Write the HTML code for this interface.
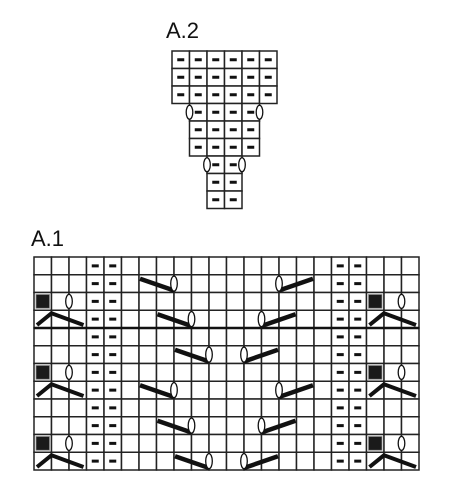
<!DOCTYPE html>
<html><head><meta charset="utf-8"><style>
html,body{margin:0;padding:0;background:#fff;width:450px;height:501px;overflow:hidden}
svg{display:block}
text{font-family:"Liberation Sans",Arial,sans-serif;font-size:22px;fill:#111}
</style></head><body>
<svg id="c" width="450" height="501" viewBox="0 0 450 501">
<text x="166" y="38">A.2</text>
<text x="31" y="246">A.1</text>
</svg>
<script>
// A.2 chart: each row: [firstCol, lastCol] (in columns of 6-wide grid), yo-overs at gridlines
const a2Rows = [[0,5],[0,5],[0,5],[1,4],[1,4],[1,4],[2,3],[2,3],[2,3]];
const a2Yo = [[3,1],[3,5],[6,2],[6,4]]; // [row, gridline]
// A.1 chart: 22 columns x 12 rows
const a1Cols = 22, a1Rows = 12;
const a1Purl = [3,4,17,18];
const a1Square = [[2,0],[6,0],[10,0],[2,19],[6,19],[10,19]];
const a1SmallYo = [[2,2],[6,2],[10,2],[2,21],[6,21],[10,21]];
const a1Chevron = [[3,1],[7,1],[11,1],[3,20],[7,20],[11,20]]; // [row, peak gridline]
const a1LeftDiag = [[1,6],[3,7],[5,8],[7,6],[9,7],[11,8]]; // [row, start gridline] -> oval at +2
const a1RightDiag = [[1,14],[3,13],[5,12],[7,14],[9,13],[11,12]]; // [row, oval gridline] -> end at +2

const svg = document.getElementById('c');
const NS = 'http://www.w3.org/2000/svg';
function mk(tag, at){const e=document.createElementNS(NS,tag);for(const k in at)e.setAttribute(k,at[k]);svg.appendChild(e);return e;}

function purl(x,y,w,h){
  const d=mk('rect',{x:x+w/2-3.5,y:y+h/2-1.5,width:7,height:3,fill:'#111'});
  
  
}
function yo(cx,cy,h){
  const o=mk('ellipse',{cx:cx,cy:cy,rx:3.3,ry:h,fill:'#fff',stroke:'#111','stroke-width':1.3});
  
  
}

// ---- A.2 ----
const a2x0=172, a2y0=51, a2w=17.5, a2h=17.5;
a2Rows.forEach((r,i)=>{
  for(let c=r[0];c<=r[1];c++){
    const x=a2x0+c*a2w, y=a2y0+i*a2h;
    const cell=mk('rect',{x:x,y:y,width:a2w,height:a2h,fill:'#fff',stroke:'#222','stroke-width':1.5});
    
    
    purl(x,y,a2w,a2h);
  }
});
a2Yo.forEach(([r,g])=>yo(a2x0+g*a2w, a2y0+r*a2h+a2h/2, 7));

// ---- A.1 ----
const x0=34, y0=257, cw=17.5, rh=17.75;
const X=g=>x0+g*cw, Y=r=>y0+r*rh;
for(let r=0;r<a1Rows;r++)for(let c=0;c<a1Cols;c++){
  const cell=mk('rect',{x:X(c),y:Y(r),width:cw,height:rh,fill:'#fff',stroke:'#222','stroke-width':1.5});
  
  
}
const thick=mk('line',{x1:X(0),y1:Y(4),x2:X(a1Cols),y2:Y(4),stroke:'#111','stroke-width':2.5});


for(let r=0;r<a1Rows;r++)a1Purl.forEach(c=>purl(X(c),Y(r),cw,rh));
a1Square.forEach(([r,c])=>{
  const s=mk('rect',{x:X(c)+2,y:Y(r)+2,width:cw-4,height:rh-4,fill:'#1a1a1a',stroke:'#888','stroke-width':0.8});
  
  
});
a1SmallYo.forEach(([r,g])=>yo(X(g),Y(r)+rh/2,7));
a1Chevron.forEach(([r,g])=>{
  const p=mk('polyline',{points:`${X(g-1)+3},${Y(r)+rh-3} ${X(g)},${Y(r)+3} ${X(g+2)-3},${Y(r)+rh-3}`,fill:'none',stroke:'#111','stroke-width':4,'stroke-linejoin':'miter'});
  
  
});
a1LeftDiag.forEach(([r,g])=>{
  const l=mk('line',{x1:X(g)+1,y1:Y(r)+4,x2:X(g+2),y2:Y(r)+rh-2,stroke:'#111','stroke-width':4.5});
  
  
  yo(X(g+2),Y(r)+rh/2,7.5);
});
a1RightDiag.forEach(([r,g])=>{
  const l=mk('line',{x1:X(g),y1:Y(r)+rh-2,x2:X(g+2)-1,y2:Y(r)+4,stroke:'#111','stroke-width':4.5});
  
  
  yo(X(g),Y(r)+rh/2,7.5);
});
</script>
</body></html>
